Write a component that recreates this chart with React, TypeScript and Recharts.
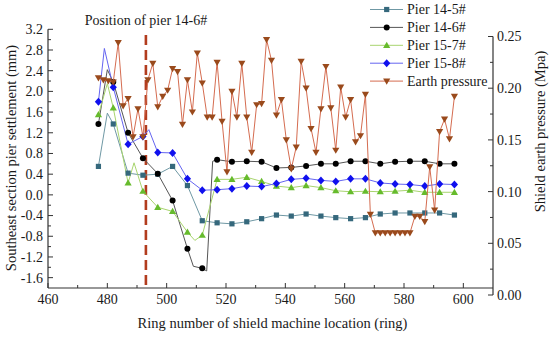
import React from 'react';
import { ComposedChart, Line, XAxis, YAxis, ReferenceLine } from 'recharts';

// ---- data ----
const pier145Rings = [477, 480, 482, 487, 492, 497, 502, 507, 512, 517, 522, 527, 532, 537, 542, 547, 552, 557, 562, 567, 572, 577, 582, 587, 592, 597];
const pier145 = [0.55, 1.58, 1.37, 0.42, 0.38, 0.40, 0.55, 0.18, -0.50, -0.54, -0.56, -0.52, -0.46, -0.39, -0.41, -0.37, -0.41, -0.44, -0.46, -0.44, -0.37, -0.35, -0.35, -0.35, -0.35, -0.39];

const pier146Rings = [477, 480, 482, 487, 492, 497, 502, 507, 509, 512, 513.5, 515.5, 517, 522, 527, 532, 537, 542, 547, 552, 557, 562, 567, 572, 577, 582, 587, 592, 597];
const pier146 = [1.37, 2.42, 2.18, 1.20, 0.71, 0.41, -0.11, -1.04, -1.38, -1.42, -1.47, 0.65, 0.68, 0.64, 0.65, 0.64, 0.52, 0.53, 0.56, 0.60, 0.60, 0.65, 0.65, 0.60, 0.64, 0.65, 0.65, 0.60, 0.60];

const pier157Rings = [477, 480, 482, 487, 489, 492, 497, 502, 507, 509.5, 512, 517, 522, 527, 532, 537, 542, 547, 552, 557, 562, 567, 572, 577, 582, 587, 592, 597];
const pier157 = [1.55, 2.15, 1.68, 0.23, 0.62, 0.07, -0.24, -0.32, -0.72, -0.88, -0.78, 0.30, 0.30, 0.34, 0.26, 0.17, 0.14, 0.18, 0.14, 0.08, 0.06, 0.07, 0.06, 0.07, 0.09, 0.05, 0.05, 0.05];

const pier158Rings = [477, 479, 482, 487, 492, 494, 497, 502, 507, 512, 517, 522, 527, 532, 537, 542, 547, 552, 557, 562, 567, 572, 577, 582, 587, 592, 597];
const pier158 = [1.80, 2.83, 2.08, 0.98, 1.13, 1.26, 0.82, 0.81, 0.31, 0.09, 0.10, 0.12, 0.17, 0.16, 0.22, 0.30, 0.32, 0.28, 0.26, 0.31, 0.31, 0.23, 0.21, 0.20, 0.17, 0.21, 0.20];

const earthRings = [
  477, 478.67, 480.33, 482, 483.67, 485.33, 487, 488.67, 490.33, 492, 493.67, 495.33,
  497, 498.67, 500.33, 502, 503.67, 505.33, 507, 508.67, 510.33, 512, 513.67, 515.33,
  517, 518.67, 520.33, 522, 523.67, 525.33, 527, 528.67, 530.33, 532, 533.67, 535.33,
  537, 538.67, 540.33, 542, 543.67, 545.33, 547, 548.67, 550.33, 552, 553.67, 555.33,
  557, 558.67, 560.33, 562, 563.67, 565.33, 567, 568.67, 570.33, 572, 573.67, 575.33,
  577, 578.67, 580.33, 582, 583.67, 585.33, 587, 588.67, 590.33, 592, 593.67, 595.33, 597,
];
const earthPressure = [
  0.210, 0.208, 0.207, 0.206, 0.244, 0.183, 0.190, 0.153, 0.180, 0.153, 0.208, 0.224,
  0.182, 0.192, 0.198, 0.219, 0.216, 0.165, 0.208, 0.177, 0.234, 0.205, 0.172, 0.172,
  0.225, 0.168, 0.119, 0.197, 0.172, 0.224, 0.172, 0.138, 0.184, 0.185, 0.247, 0.227,
  0.174, 0.189, 0.150, 0.122, 0.143, 0.226, 0.200, 0.161, 0.138, 0.180, 0.221, 0.181,
  0.140, 0.201, 0.172, 0.189, 0.148, 0.154, 0.194, 0.078, 0.060, 0.060, 0.060, 0.060,
  0.060, 0.060, 0.060, 0.060, 0.076, 0.076, 0.071, 0.124, 0.082, 0.158, 0.170, 0.151, 0.192,
];

const xTicks = [460, 470, 480, 490, 500, 510, 520, 530, 540, 550, 560, 570, 580, 590, 600];
const leftTicks = [-1.6, -1.4, -1.2, -1.0, -0.8, -0.6, -0.4, -0.2, 0, 0.2, 0.4, 0.6, 0.8, 1.0, 1.2, 1.4, 1.6, 1.8, 2.0, 2.2, 2.4, 2.6, 2.8, 3.0, 3.2];
const rightTicks = [0, 0.025, 0.05, 0.075, 0.1, 0.125, 0.15, 0.175, 0.2, 0.225, 0.25];

const pierPosition = 493;

const font = "'Liberation Serif', 'Times New Roman', serif";
const axisColor = '#333';
const textColor = '#1a1a1a';

const rows = (rings: number[], vals: number[]) => rings.map((ring, i) => ({ ring, v: vals[i] }));

const series = [
  { name: 'Pier 14-5#', data: rows(pier145Rings, pier145), line: '#6f98a4', fill: '#35687c', shape: 'square' },
  { name: 'Pier 14-6#', data: rows(pier146Rings, pier146), line: '#555555', fill: '#000000', shape: 'circle' },
  { name: 'Pier 15-7#', data: rows(pier157Rings, pier157), line: '#a8d46e', fill: '#66bb2c', shape: 'up' },
  { name: 'Pier 15-8#', data: rows(pier158Rings, pier158), line: '#6464f0', fill: '#1010ee', shape: 'diamond' },
];
const earth = { name: 'Earth pressure', data: rows(earthRings, earthPressure), line: '#d56c50', fill: '#9a4a1c', shape: 'down' };

const isMarkerRing = (r: number) => Number.isInteger(r) && (r - 477) % 5 === 0;

const Marker = ({ shape, x, y, fill }: { shape: string; x: number; y: number; fill: string }) => {
  switch (shape) {
    case 'square':
      return <rect x={x - 2.6} y={y - 2.6} width={5.2} height={5.2} fill={fill} />;
    case 'circle':
      return <circle cx={x} cy={y} r={3} fill={fill} />;
    case 'up':
      return <path d={`M${x},${y - 3.6}L${x + 3.6},${y + 2.6}L${x - 3.6},${y + 2.6}Z`} fill={fill} />;
    case 'diamond':
      return <path d={`M${x},${y - 4}L${x + 3.6},${y}L${x},${y + 4}L${x - 3.6},${y}Z`} fill={fill} />;
    default:
      return <path d={`M${x - 3.6},${y - 2.6}L${x + 3.6},${y - 2.6}L${x},${y + 3.6}Z`} fill={fill} />;
  }
};

const dotFor = (shape: string, fill: string, all = false) => (p: any) => {
  const { cx, cy, payload, index } = p;
  if (cx == null || cy == null || (!all && !isMarkerRing(payload.ring))) return <g key={index} />;
  return <g key={index}><Marker shape={shape} x={cx} y={cy} fill={fill} /></g>;
};

const XTick = (p: any) => {
  const v = p.payload.value;
  const major = v % 20 === 0;
  return (
    <g>
      <line x1={p.x} x2={p.x} y1={p.y} y2={p.y - (major ? 5 : 3)} stroke={axisColor} />
      {major && (
        <text x={p.x} y={p.y + 16} textAnchor="middle" fontSize={14} fontFamily={font} fill={textColor}>{v}</text>
      )}
    </g>
  );
};

const LeftTick = (p: any) => {
  const v = p.payload.value;
  const major = Math.round(v * 10) % 4 === 0;
  return (
    <g>
      <line x1={p.x} x2={p.x + (major ? 5 : 3)} y1={p.y} y2={p.y} stroke={axisColor} />
      {major && (
        <text x={p.x - 5} y={p.y} dy="0.35em" textAnchor="end" fontSize={14} fontFamily={font} fill={textColor}>{v.toFixed(1)}</text>
      )}
    </g>
  );
};

const RightTick = (p: any) => {
  const v = p.payload.value;
  const major = Math.round(v * 1000) % 50 === 0;
  return (
    <g>
      <line x1={p.x} x2={p.x - (major ? 5 : 3)} y1={p.y} y2={p.y} stroke={axisColor} />
      {major && (
        <text x={p.x + 4} y={p.y} dy="0.35em" textAnchor="start" fontSize={14} fontFamily={font} fill={textColor}>{v.toFixed(2)}</text>
      )}
    </g>
  );
};

const legendRows = [...series, earth];

export default function App() {
  return (
    <div style={{ position: 'absolute', left: 0, top: 0, width: 550, height: 337, background: '#fff' }}>
      {/* settlement layer (left axis) */}
      <div style={{ position: 'absolute', left: 0, top: 0 }}>
        <ComposedChart width={550} height={337} margin={{ top: 29.3, right: 57, bottom: 19, left: 8 }}>
          <XAxis
            type="number"
            dataKey="ring"
            domain={[460, 610]}
            ticks={xTicks}
            interval={0}
            tick={XTick}
            tickSize={0}
            tickMargin={0}
            tickLine={false}
            height={30}
            axisLine={{ stroke: axisColor, strokeWidth: 1.2 }}
            allowDataOverflow
          />
          <YAxis
            type="number"
            domain={[-1.8, 3.2]}
            ticks={leftTicks}
            interval={0}
            tick={LeftTick}
            tickSize={0}
            tickMargin={0}
            tickLine={false}
            width={40}
            axisLine={{ stroke: axisColor, strokeWidth: 1.2 }}
            allowDataOverflow
          />
          <ReferenceLine
            segment={[{ x: pierPosition, y: 3.09 }, { x: pierPosition, y: -1.8 }]}
            stroke="#b23c1e"
            strokeWidth={2.6}
            strokeDasharray="10 5"
          />
          {series.map((s) => (
            <Line
              key={s.name}
              data={s.data}
              dataKey="v"
              name={s.name}
              type="linear"
              stroke={s.line}
              strokeWidth={1}
              dot={dotFor(s.shape, s.fill)}
              activeDot={false}
              isAnimationActive={false}
            />
          ))}
          <text x={146} y={25} textAnchor="middle" fontSize={14} fontFamily={font} fill={textColor}>Position of pier 14-6#</text>
          <text x={272.5} y={328} textAnchor="middle" fontSize={14.5} fontFamily={font} fill={textColor}>Ring number of shield machine location (ring)</text>
          <text x={11} y={158} transform="rotate(-90, 11, 158)" textAnchor="middle" dy="0.35em" fontSize={14.5} fontFamily={font} fill={textColor}>Southeast section pier settlement (mm)</text>
        </ComposedChart>
      </div>

      {/* earth pressure layer (right axis, its own offset as in the original) */}
      <div style={{ position: 'absolute', left: 0, top: 0, pointerEvents: 'none' }}>
        <ComposedChart width={550} height={337} margin={{ top: 36.5, right: 0, bottom: 42, left: 48 }}>
          <XAxis type="number" dataKey="ring" domain={[460, 610]} hide />
          <YAxis
            orientation="right"
            type="number"
            domain={[0, 0.25]}
            ticks={rightTicks}
            interval={0}
            tick={RightTick}
            tickSize={0}
            tickMargin={0}
            tickLine={false}
            width={57}
            axisLine={{ stroke: axisColor, strokeWidth: 1.2 }}
          />
          <Line
            data={earth.data}
            dataKey="v"
            name={earth.name}
            type="linear"
            stroke={earth.line}
            strokeWidth={1}
            dot={dotFor(earth.shape, earth.fill, true)}
            activeDot={false}
            isAnimationActive={false}
          />
          <text x={540} y={131.5} transform="rotate(-90, 540, 131.5)" textAnchor="middle" dy="0.35em" fontSize={14.5} fontFamily={font} fill={textColor}>Shield earth pressure (Mpa)</text>
        </ComposedChart>
      </div>

      {/* legend */}
      <svg width={550} height={100} style={{ position: 'absolute', left: 0, top: 0, pointerEvents: 'none' }}>
        {legendRows.map((s, i) => {
          const y = 9.5 + i * 17.9;
          return (
            <g key={s.name}>
              <line x1={370} x2={403} y1={y} y2={y} stroke={s.line} strokeWidth={1} />
              <Marker shape={s.shape} x={386.7} y={y} fill={s.fill} />
              <text x={407} y={y} dy="0.35em" fontSize={14} fontFamily={font} fill={textColor}>{s.name}</text>
            </g>
          );
        })}
      </svg>
    </div>
  );
}
